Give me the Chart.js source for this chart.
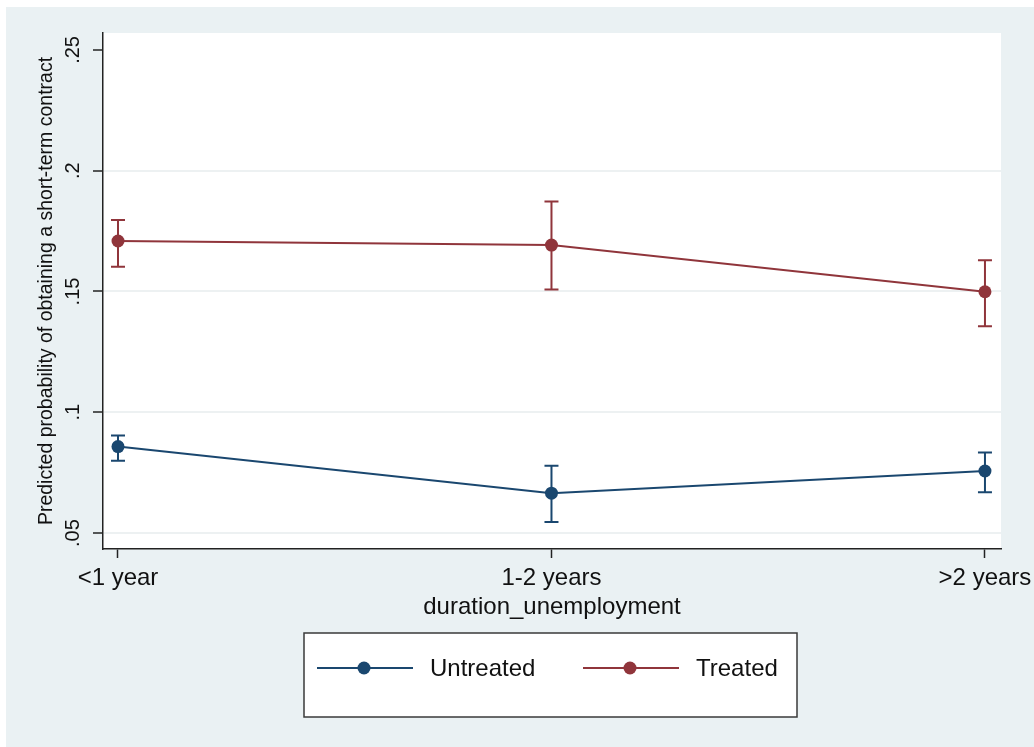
<!DOCTYPE html>
<html>
<head>
<meta charset="utf-8">
<script src="https://cdn.jsdelivr.net/npm/chart.js@4/dist/chart.umd.min.js"></script>
<style>
  html, body { margin: 0; padding: 0; background: #fff; }
  canvas { display: block; }
</style>
</head>
<body>
<canvas id="margins" width="1034" height="747"></canvas>
<script>
// values
const categories = ['<1 year', '1-2 years', '>2 years'];
const untreated = [0.0858, 0.0665, 0.0757];
const untreatedLo = [0.0799, 0.0546, 0.0669];
const untreatedHi = [0.0904, 0.0779, 0.0833];
const treated = [0.1709, 0.1692, 0.1499];
const treatedLo = [0.1602, 0.1508, 0.1356];
const treatedHi = [0.1796, 0.1872, 0.1629];
const yTicks = [0.05, 0.1, 0.15, 0.2, 0.25];
const yLabels = ['.05', '.1', '.15', '.2', '.25'];

const BLUE = '#1a476f';
const RED = '#90353b';
const BG = '#eaf1f3';
const FONT = '"Liberation Sans", Arial, Helvetica, sans-serif';

const toPoints = (vals) => vals.map((v, i) => ({ x: i, y: v }));

// background, plot area and white frame
const backdrop = {
  id: 'backdrop',
  beforeDraw(chart) {
    const { ctx, chartArea: a, width, height } = chart;
    ctx.save();
    ctx.fillStyle = '#fff';
    ctx.fillRect(0, 0, width, height);
    ctx.fillStyle = BG;
    ctx.fillRect(6, 7, width - 6, height - 7);
    ctx.fillStyle = '#fff';
    ctx.fillRect(a.left, a.top, a.right - a.left, a.bottom - a.top);
    ctx.restore();
  }
};

// confidence intervals with caps
const errorBars = {
  id: 'errorBars',
  beforeDatasetsDraw(chart) {
    const { ctx, scales: { x, y } } = chart;
    chart.data.datasets.forEach((ds) => {
      ctx.save();
      ctx.strokeStyle = ds.borderColor;
      ctx.lineWidth = 2;
      ds.data.forEach((p, i) => {
        const px = x.getPixelForValue(p.x);
        const lo = y.getPixelForValue(ds.lo[i]);
        const hi = y.getPixelForValue(ds.hi[i]);
        ctx.beginPath();
        ctx.moveTo(px, lo); ctx.lineTo(px, hi);
        ctx.moveTo(px - 7, lo); ctx.lineTo(px + 7, lo);
        ctx.moveTo(px - 7, hi); ctx.lineTo(px + 7, hi);
        ctx.stroke();
      });
      ctx.restore();
    });
  }
};

// Stata-style boxed legend under the plot
const boxLegend = {
  id: 'boxLegend',
  afterDraw(chart) {
    const { ctx } = chart;
    const left = 304, top = 633, w = 493, h = 84;
    const cy = top + h / 2 - 7;
    ctx.save();
    ctx.fillStyle = '#fff';
    ctx.fillRect(left, top, w, h);
    ctx.strokeStyle = '#3a3a3a';
    ctx.lineWidth = 1.5;
    ctx.strokeRect(left, top, w, h);
    const starts = [317, 583];
    chart.data.datasets.forEach((ds, i) => {
      const x0 = starts[i];
      ctx.strokeStyle = ds.borderColor;
      ctx.lineWidth = 2;
      ctx.beginPath();
      ctx.moveTo(x0, cy); ctx.lineTo(x0 + 96, cy);
      ctx.stroke();
      ctx.fillStyle = ds.borderColor;
      ctx.beginPath();
      ctx.arc(x0 + 47, cy, 6.5, 0, Math.PI * 2);
      ctx.fill();
      ctx.fillStyle = '#111';
      ctx.font = '24px ' + FONT;
      ctx.textBaseline = 'middle';
      ctx.textAlign = 'left';
      ctx.fillText(ds.label, x0 + 113, cy + 1);
    });
    ctx.restore();
  }
};

new Chart(document.getElementById('margins'), {
  type: 'line',
  data: {
    datasets: [
      {
        label: 'Untreated',
        data: toPoints(untreated),
        lo: untreatedLo,
        hi: untreatedHi,
        borderColor: BLUE,
        backgroundColor: BLUE,
        borderWidth: 2,
        pointRadius: 6.5,
        pointBorderWidth: 0,
        tension: 0
      },
      {
        label: 'Treated',
        data: toPoints(treated),
        lo: treatedLo,
        hi: treatedHi,
        borderColor: RED,
        backgroundColor: RED,
        borderWidth: 2,
        pointRadius: 6.5,
        pointBorderWidth: 0,
        tension: 0
      }
    ]
  },
  options: {
    responsive: false,
    animation: false,
    events: [],
    layout: { padding: { top: 33, right: 33, left: 0, bottom: 0 } },
    plugins: {
      legend: { display: false },
      tooltip: { enabled: false }
    },
    scales: {
      x: {
        type: 'linear',
        min: -0.0346,
        max: 2.037,
        afterBuildTicks: (scale) => { scale.ticks = categories.map((c, i) => ({ value: i })); },
        afterFit: (scale) => {
          scale.height = 198;
          // let the last label run past the plot instead of shrinking it
          scale.paddingLeft = 0;
          scale.paddingRight = 0;
        },
        border: { display: true, color: '#222', width: 1.5 },
        grid: { drawOnChartArea: false, tickLength: 9, tickColor: '#222', tickWidth: 1.5 },
        ticks: {
          color: '#111',
          font: { family: FONT, size: 24 },
          padding: 6,
          maxRotation: 0,
          callback: (v) => categories[v]
        },
        title: {
          display: true,
          text: 'duration_unemployment',
          color: '#111',
          font: { family: FONT, size: 24 },
          padding: { top: 0, bottom: 125 }
        }
      },
      y: {
        min: 0.0434,
        max: 0.257,
        afterBuildTicks: (scale) => { scale.ticks = yTicks.map((v) => ({ value: v })); },
        afterFit: (scale) => { scale.width = 103; },
        border: { display: true, color: '#222', width: 1.5 },
        grid: {
          color: (c) => (c.tick && c.tick.value === 0.25 ? 'rgba(0,0,0,0)' : '#edf1f2'),
          lineWidth: 2,
          tickLength: 10,
          tickColor: '#222',
          tickWidth: 1.5
        },
        ticks: {
          color: '#111',
          font: { family: FONT, size: 20 },
          minRotation: 90,
          maxRotation: 90,
          crossAlign: 'center',
          padding: 6,
          callback: (v) => yLabels[yTicks.indexOf(v)]
        },
        title: {
          display: true,
          text: 'Predicted probability of obtaining a short-term contract',
          color: '#111',
          font: { family: FONT, size: 19.5 },
          padding: { top: 35, bottom: 0 }
        }
      }
    }
  },
  plugins: [backdrop, errorBars, boxLegend]
});
</script>
</body>
</html>
